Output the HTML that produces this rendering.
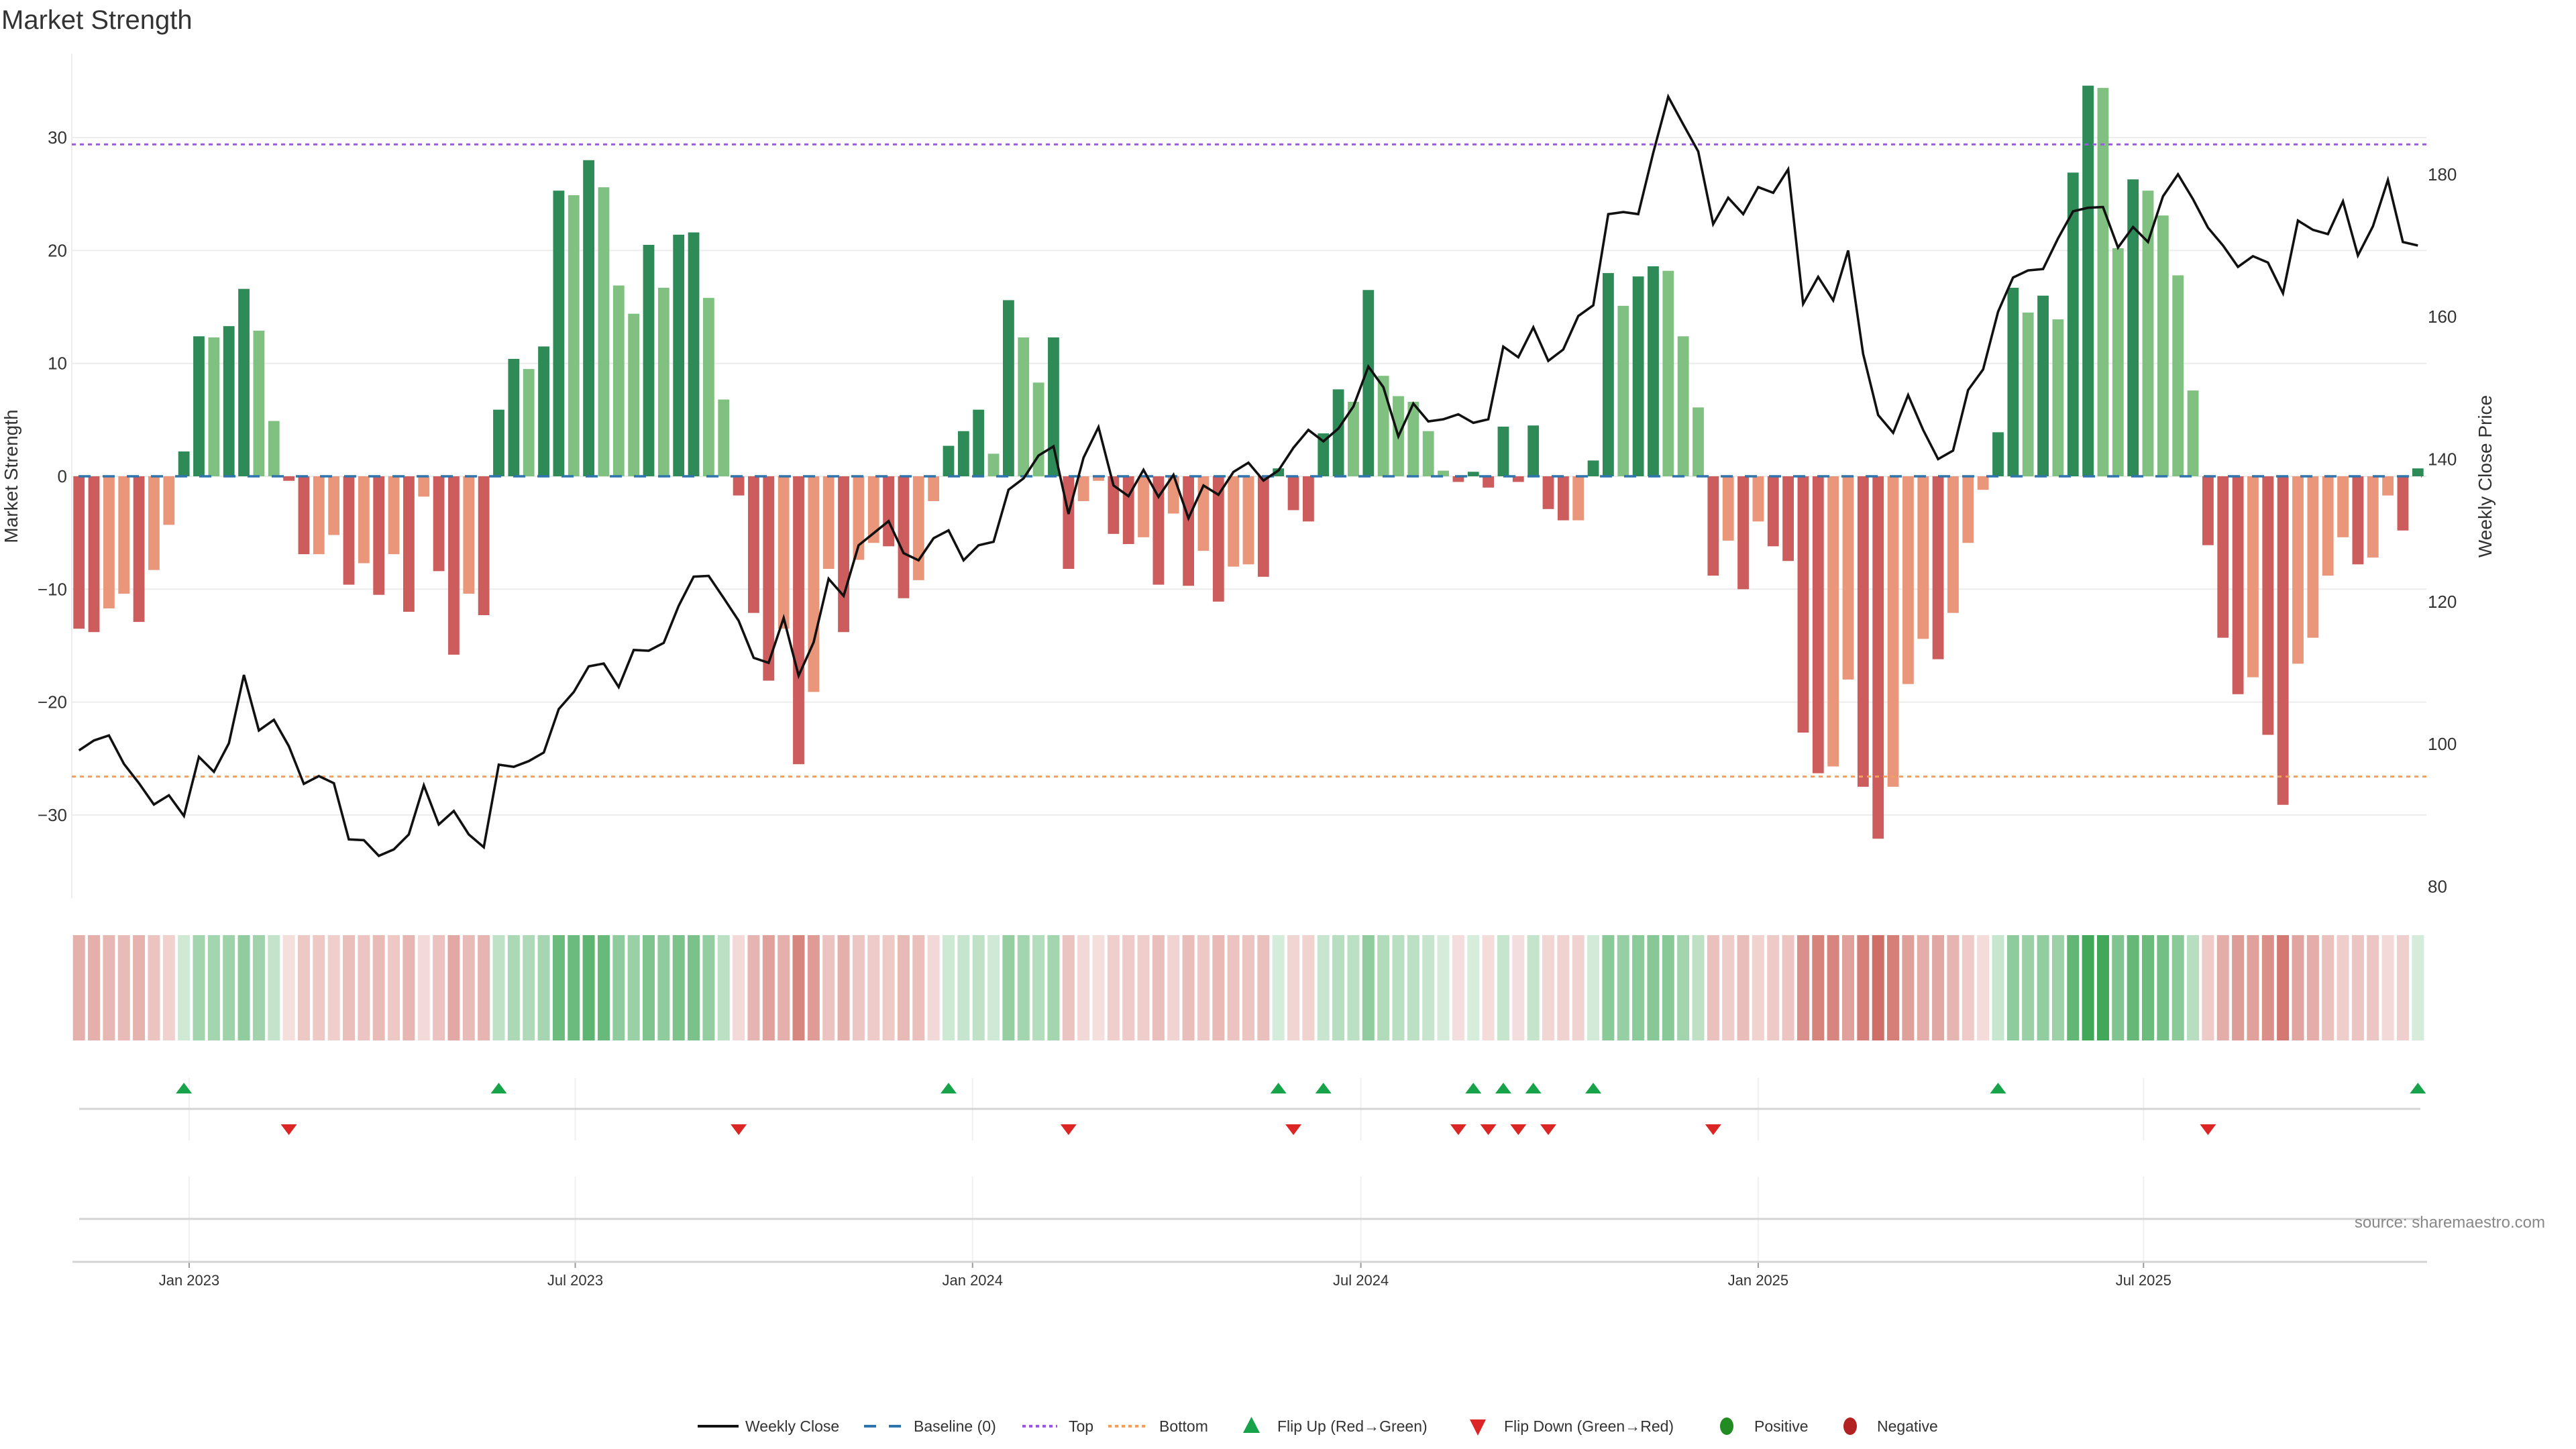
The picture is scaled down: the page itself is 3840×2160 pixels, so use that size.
<!DOCTYPE html>
<html><head><meta charset="utf-8"><style>
html,body{margin:0;padding:0;background:#fff;}
svg{display:block;font-family:"Liberation Sans",sans-serif;}
</style></head><body>
<svg id="chart" width="3840" height="2160" viewBox="0 0 3840 2160" xmlns="http://www.w3.org/2000/svg">
<rect width="3840" height="2160" fill="#fff"/>
<text x="2" y="43" font-size="40" fill="#333">Market Strength</text>
<g id="grid"></g>
<g id="bars"></g>
<g id="refs"></g>
<g id="line"></g>
<g id="axes"></g>
<g id="heat"></g>
<g id="marks"></g>
<g id="legend"></g>
</svg>
<script>
const strength = [-13.5,-13.8,-11.7,-10.4,-12.9,-8.3,-4.3,2.2,12.4,12.3,13.3,16.6,12.9,4.9,-0.4,-6.9,-6.9,-5.2,-9.6,-7.7,-10.5,-6.9,-12.0,-1.8,-8.4,-15.8,-10.4,-12.3,5.9,10.4,9.5,11.5,25.3,24.9,28.0,25.6,16.9,14.4,20.5,16.7,21.4,21.6,15.8,6.8,-1.7,-12.1,-18.1,-13.5,-25.5,-19.1,-8.2,-13.8,-7.4,
-5.9,-6.2,-10.8,-9.2,-2.2,2.7,4.0,5.9,2.0,15.6,12.3,8.3,12.3,-8.2,-2.2,-0.4,-5.1,-6.0,-5.4,-9.6,-3.3,-9.7,-6.6,-11.1,-8.0,-7.8,-8.9,0.7,-3.0,-4.0,3.8,7.7,6.6,16.5,8.9,7.1,6.6,4.0,0.5,-0.5,0.4,-1.0,4.4,-0.5,4.5,-2.9,-3.9,-3.9,1.4,18.0,15.1,17.7,18.6,18.2,12.4,6.1,-8.8,-5.7,
-10.0,-4.0,-6.2,-7.5,-22.7,-26.3,-25.7,-18.0,-27.5,-32.1,-27.5,-18.4,-14.4,-16.2,-12.1,-5.9,-1.2,3.9,16.7,14.5,16.0,13.9,26.9,34.6,34.4,20.2,26.3,25.3,23.1,17.8,7.6,-6.1,-14.3,-19.3,-17.8,-22.9,-29.1,-16.6,-14.3,-8.8,-5.4,-7.8,-7.2,-1.7,-4.8,0.7];
const strong = [1,1,0,0,1,0,0,1,1,0,1,1,0,0,1,1,0,0,1,0,1,0,1,0,1,1,0,1,1,1,0,1,1,0,1,0,0,0,1,0,1,1,0,0,1,1,1,0,1,0,0,1,0,
0,1,1,0,0,1,1,1,0,1,0,0,1,1,0,0,1,1,0,1,0,1,0,1,0,0,1,1,1,1,1,1,0,1,0,0,0,0,0,1,1,1,1,1,1,1,1,0,1,1,0,1,1,0,0,0,1,0,
1,0,1,1,1,1,0,0,1,1,0,0,0,1,0,0,0,1,1,0,1,0,1,1,0,0,1,0,0,0,0,1,1,1,0,1,1,0,0,0,0,1,0,0,1,1];
const closes = [99.1,100.5,101.2,97.2,94.5,91.5,92.8,89.9,98.2,96.1,100.1,109.7,101.9,103.4,99.7,94.4,95.5,94.5,86.6,86.5,84.3,85.2,87.3,94.2,88.7,90.6,87.3,85.5,97.1,96.8,97.6,98.8,104.9,107.3,110.9,111.3,108.0,113.2,113.1,114.2,119.4,123.5,123.6,120.5,117.3,112.1,111.4,117.7,109.6,114.3,123.2,120.8,127.9,
129.6,131.3,126.8,125.8,128.9,130.0,125.8,127.9,128.4,135.7,137.3,140.5,141.8,132.3,140.2,144.5,136.3,134.8,138.5,134.7,137.8,131.7,136.3,135.0,138.2,139.5,137.0,138.4,141.6,144.1,142.5,144.3,147.4,153.0,150.1,143.2,147.8,145.3,145.6,146.3,145.1,145.6,155.8,154.3,158.5,153.8,155.4,160.1,161.6,174.4,174.7,174.4,183.0,190.9,187.0,183.2,173.0,176.7,
174.4,178.2,177.4,180.7,161.8,165.6,162.3,169.3,154.8,146.2,143.7,149.0,144.1,140.0,141.2,149.7,152.6,160.7,165.5,166.5,166.7,171.0,174.8,175.3,175.4,169.7,172.6,170.5,176.9,180.0,176.5,172.5,170.0,167.0,168.5,167.6,163.3,173.5,172.2,171.6,176.2,168.6,172.7,179.2,170.5,170.0];
const leftTicks = [-30,-20,-10,0,10,20,30];
const rightTicks = [80,100,120,140,160,180];
const xTickLabels = ["Jan 2023","Jul 2023","Jan 2024","Jul 2024","Jan 2025","Jul 2025"];
const xTickWeeks = [7.35,33.1,59.6,85.5,112.0,137.7];
const topLevel = [29.4];
const bottomLevel = [-26.6];

const NS="http://www.w3.org/2000/svg";
const X0=117.7, DX=22.35;
function xs(i){return X0+DX*i;}
function yl(v){return 710-16.83*v;}
function yr(p){return 259.8+(180-p)*10.616;}
function mk(tag,attrs,parent){const e=document.createElementNS(NS,tag);for(const k in attrs)e.setAttribute(k,attrs[k]);document.getElementById(parent).appendChild(e);return e;}

leftTicks.forEach(v=>{
  const g=mk('line',{x1:107,x2:3617,y1:yl(v),y2:yl(v),stroke:'#ececec','stroke-width':2},'grid');
  
  
  const t=mk('text',{x:100,y:yl(v)+9,'font-size':26,fill:'#333','text-anchor':'end'},'axes');
  t.textContent=(v<0?'\u2212'+(-v):String(v));
  
  
});
const ax=mk('line',{x1:107,x2:107,y1:80,y2:1339,stroke:'#ececec','stroke-width':2},'grid');


rightTicks.forEach(p=>{
  const t=mk('text',{x:3619,y:yr(p)+9,'font-size':26,fill:'#333'},'axes');
  t.textContent=String(p);
  
  
});
let yt=mk('text',{x:0,y:0,'font-size':28,fill:'#333','text-anchor':'middle',transform:'translate(26,710) rotate(-90)'},'axes');
yt.textContent='Market Strength';


let yt2=mk('text',{x:0,y:0,'font-size':28,fill:'#333','text-anchor':'middle',transform:'translate(3714,710) rotate(-90)'},'axes');
yt2.textContent='Weekly Close Price';



strength.forEach((v,i)=>{
  const pos=v>=0;
  const col=pos?(strong[i]?'#2e8b57':'#80c080'):(strong[i]?'#cd5c5c':'#e9967a');
  const y0=yl(0), y1=yl(v);
  const b=mk('rect',{x:xs(i)-8.4,y:Math.min(y0,y1),width:16.8,height:Math.max(Math.abs(y1-y0),0.5),fill:col},'bars');
  
  
});
const bl=mk('line',{x1:117,x2:3610,y1:yl(0),y2:yl(0),stroke:'#2f74ad','stroke-width':3.5,'stroke-dasharray':'18 18'},'refs');


const tl=mk('line',{x1:107,x2:3617,y1:yl(topLevel[0]),y2:yl(topLevel[0]),stroke:'#9b59e0','stroke-width':3,'stroke-dasharray':'6 6'},'refs');


const btl=mk('line',{x1:107,x2:3617,y1:yl(bottomLevel[0]),y2:yl(bottomLevel[0]),stroke:'#f0a060','stroke-width':3,'stroke-dasharray':'6 6'},'refs');



const pts=closes.map((p,i)=>xs(i).toFixed(1)+','+yr(p).toFixed(1)).join(' ');
const pl=mk('polyline',{points:pts,fill:'none',stroke:'#111','stroke-width':3.6,'stroke-linejoin':'miter'},'line');



strength.forEach((v,i)=>{
  const a=Math.min(1,0.2+0.8*Math.abs(v)/35);
  const base=v>=0?[63,167,87]:[204,100,92];
  const c=base.map(ch=>Math.round(255-a*(255-ch)));
  const r=mk('rect',{x:xs(i)-9,y:1394,width:18,height:157,fill:'rgb('+c.join(',')+')'},'heat');
  
  
});

xTickWeeks.forEach((w,k)=>{
  const x=xs(w);
  const g1=mk('line',{x1:x,x2:x,y1:1607,y2:1700,stroke:'#f0f0f0','stroke-width':2},'marks');
  
  
  const g2=mk('line',{x1:x,x2:x,y1:1754,y2:1880,stroke:'#f0f0f0','stroke-width':2},'marks');
  
  
  const tk=mk('line',{x1:x,x2:x,y1:1880,y2:1890,stroke:'#999','stroke-width':2},'marks');
  
  
  const t=mk('text',{x:x,y:1916,'font-size':22,fill:'#333','text-anchor':'middle'},'marks');
  t.textContent=xTickLabels[k];
  
  
});
[[118,3608,1653],[118,3608,1817],[108,3618,1881]].forEach(l=>{
  const e=mk('line',{x1:l[0],x2:l[1],y1:l[2],y2:l[2],stroke:'#d4d4d4','stroke-width':3},'marks');
  
  
});
for(let i=1;i<strength.length;i++){
  const x=xs(i);
  if(strength[i-1]<0&&strength[i]>=0){
    const t=mk('polygon',{points:`${x-12},1630 ${x+12},1630 ${x},1614`,fill:'#16a34a'},'marks');
    
    
  } else if(strength[i-1]>=0&&strength[i]<0){
    const t=mk('polygon',{points:`${x-12},1676 ${x+12},1676 ${x},1692`,fill:'#dc2626'},'marks');
    
    
  }
}
const src=mk('text',{x:3794,y:1830,'font-size':24,fill:'#888','text-anchor':'end'},'marks');
src.textContent='source: sharemaestro.com';



function ltext(x,s){const t=mk('text',{x:x,y:2134,'font-size':23,fill:'#333'},'legend');t.textContent=s;return t;}
let e;
e=mk('line',{x1:1040,x2:1101,y1:2126,y2:2126,stroke:'#111','stroke-width':4},'legend');

e=ltext(1111,'Weekly Close');
e=mk('line',{x1:1288,x2:1344,y1:2126,y2:2126,stroke:'#2f74ad','stroke-width':4,'stroke-dasharray':'18 19'},'legend');

e=ltext(1362,'Baseline (0)');
e=mk('line',{x1:1524,x2:1576,y1:2126,y2:2126,stroke:'#9b59e0','stroke-width':4,'stroke-dasharray':'5 5'},'legend');

e=ltext(1593,'Top');
e=mk('line',{x1:1652,x2:1711,y1:2126,y2:2126,stroke:'#f0a060','stroke-width':4,'stroke-dasharray':'5 5'},'legend');

e=ltext(1728,'Bottom');
e=mk('polygon',{points:'1853,2136 1878,2136 1865.5,2112',fill:'#16a34a'},'legend');

e=ltext(1904,'Flip Up (Red\u2192Green)');
e=mk('polygon',{points:'2191,2116 2215,2116 2203,2140',fill:'#dc2626'},'legend');

e=ltext(2242,'Flip Down (Green\u2192Red)');
e=mk('ellipse',{cx:2574,cy:2126,rx:10,ry:13,fill:'#228b22'},'legend');

e=ltext(2615,'Positive');
e=mk('ellipse',{cx:2758,cy:2126,rx:10,ry:13,fill:'#b22222'},'legend');

e=ltext(2798,'Negative');
</script>
</body></html>
